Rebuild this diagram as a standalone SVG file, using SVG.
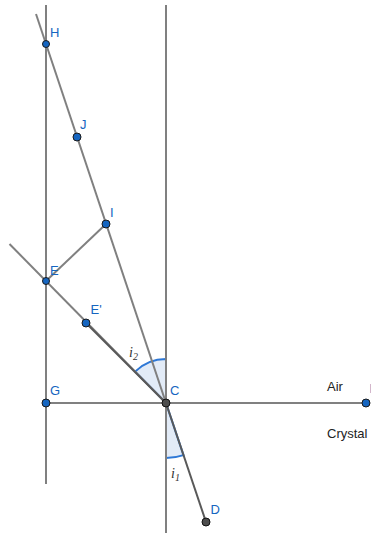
<svg xmlns="http://www.w3.org/2000/svg" width="371" height="534" viewBox="0 0 371 534">
<style>
.ln{stroke:#808080;stroke-width:2;fill:none}
.dk{stroke:#595959;stroke-width:2;fill:none}
.ang{fill:#dde7f6;fill-opacity:0.85;stroke:#2e78d6;stroke-width:2}
.pt{fill:#1565c0;stroke:#1a1a1a;stroke-width:1}
.pd{fill:#4d4d4d;stroke:#111;stroke-width:1}
.lb{font-family:"Liberation Sans",Arial,sans-serif;font-size:13px;fill:#1565c0}
.tx{font-family:"Liberation Sans",Arial,sans-serif;font-size:13px;fill:#222}
.gk{font-family:"Liberation Serif","Times New Roman",serif;font-style:italic;font-size:14px;fill:#333}
.sub{font-size:10px}
</style>
<rect width="371" height="534" fill="#fff"/>
<g id="angles">
<path class="ang" d="M166,403 L166,359 A44,44 0 0 0 135.1,371.6 Z"/>
<path class="ang" d="M166,403 L166,458 A55,55 0 0 0 183.5,455.1 Z"/>
</g>
<g id="connectors">
<line class="ln" x1="46" y1="5" x2="46" y2="484"/>
<line class="ln" x1="166" y1="5" x2="166" y2="533"/>
<line class="ln" x1="46" y1="403" x2="366" y2="403"/>
<line class="ln" x1="36" y1="14" x2="166" y2="403"/>
<line class="ln" x1="9.5" y1="244" x2="166" y2="403"/>
<line class="ln" x1="46" y1="281" x2="106" y2="224"/>
<line class="dk" x1="86" y1="323" x2="166" y2="403"/>
<line class="dk" x1="166" y1="403" x2="206" y2="522"/>
</g>
<g id="angle-labels">
<text class="gk" x="129" y="357">i<tspan class="sub" dy="3">2</tspan></text>
<text class="gk" x="171" y="478">i<tspan class="sub" dy="3">1</tspan></text>
</g>
<g id="H"><circle class="pt" cx="46" cy="44" r="3.5"/><text class="lb" x="50" y="37">H</text></g>
<g id="J"><circle class="pt" cx="77" cy="137" r="4"/><text class="lb" x="80" y="129">J</text></g>
<g id="I"><circle class="pt" cx="106" cy="224" r="4"/><text class="lb" x="110" y="217">I</text></g>
<g id="E"><circle class="pt" cx="46" cy="281" r="3.5"/><text class="lb" x="50" y="275">E</text></g>
<g id="E2"><circle class="pt" cx="86" cy="323" r="4"/><text class="lb" x="90.5" y="314">E'</text></g>
<g id="G"><circle class="pt" cx="46" cy="403" r="4"/><text class="lb" x="50" y="395">G</text></g>
<g id="C"><circle class="pd" cx="166" cy="403" r="4"/><text class="lb" x="170" y="395">C</text></g>
<g id="D"><circle class="pd" cx="206" cy="522" r="4"/><text class="lb" x="210.5" y="514">D</text></g>
<g id="F"><circle class="pt" cx="366" cy="403" r="4"/><text class="lb" x="369.5" y="393">F</text></g>
<g id="media">
<text class="tx" x="327" y="391">Air</text>
<text class="tx" x="327" y="438">Crystal</text>
</g>
</svg>
